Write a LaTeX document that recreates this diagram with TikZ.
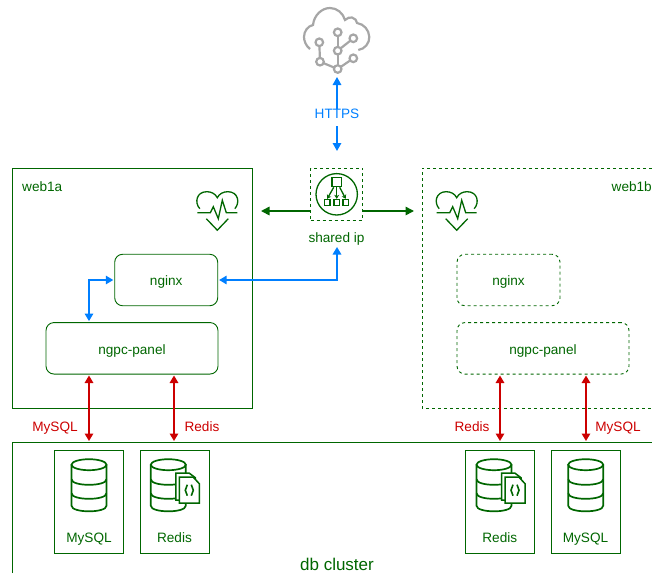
\documentclass[tikz,border=0pt]{standalone}
\usepackage{fontspec}
\setmainfont{Liberation Sans}
\usetikzlibrary{arrows.meta}

\definecolor{ngreen}{HTML}{006600}
\definecolor{nblue}{HTML}{007FFF}
\definecolor{nred}{HTML}{CC0000}
\definecolor{ngray}{HTML}{A6A6A6}

\tikzset{
    dashline/.style={dash pattern=on 3pt off 3pt},
    box/.style={draw=ngreen,line width=0.9pt,text=ngreen,minimum width=#1,minimum height=51.5pt,inner sep=0pt,rounded corners=8pt,font=\fontsize{13.6}{15}\selectfont,text height=11.5pt,text depth=0pt},
    dbbox/.style={draw=ngreen,line width=0.9pt,minimum width=69pt,minimum height=103pt,inner sep=0pt},
    lbl/.style={inner sep=0pt,font=\fontsize{13.6}{15}\selectfont,text height=9.5pt,text depth=2.8pt},
    bluearrow/.style={draw=nblue,line width=1.6pt,{Triangle[width=8.5pt,length=7.5pt]}-{Triangle[width=8.5pt,length=7.5pt]},shorten >=1pt,shorten <=1pt},
    blueup/.style={draw=nblue,line width=1.6pt,-{Triangle[width=8.5pt,length=8pt]}},
    redarrow/.style={draw=nred,line width=1.6pt,{Triangle[width=8.5pt,length=7.5pt]}-{Triangle[width=8.5pt,length=7.5pt]},shorten <=1pt},
    greenarrow/.style={draw=ngreen,line width=1.6pt,-{Triangle[width=8.5pt,length=8.5pt]}},
    heart/.pic={
        \draw[ngreen,line width=1.3pt] (-17.5,-4) .. controls (-23,-10) and (-21,-21) .. (-10.5,-21) .. controls (-6,-21) and (-2,-19) .. (0,-15) .. controls (2,-19) and (6,-21) .. (10.5,-21) .. controls (21,-21) and (23,-10) .. (17.5,-4);
        \draw[ngreen,line width=1.3pt] (-11,6) -- (0,17.5) -- (11,6);
        \draw[ngreen,line width=1.3pt] (-20,0) -- (-7,0) -- (-4,-6) -- (1,6) -- (5,-12.5) -- (9,0) -- (20,0);
    },
    dbstack/.pic={
        \draw[ngreen,line width=1.7pt] (0,0) ellipse (17.5pt and 5.5pt);
        \draw[ngreen,line width=1.7pt] (-17.5,0) -- (-17.5,41) .. controls (-17.5,48.5) and (17.5,48.5) .. (17.5,41) -- (17.5,0);
        \foreach \y in {14.5,28.5}
            \draw[ngreen,line width=1.7pt] (-17.5,\y) .. controls (-17.5,\y+7.5) and (17.5,\y+7.5) .. (17.5,\y);
    },
    docs/.pic={
        \draw[ngreen,fill=white,line width=1.5pt] (7.5,35.5) -- (7.5,8.5) -- (21,8.5) -- (27,13) -- (27,35.5) -- cycle;
        \draw[ngreen,fill=white,line width=1.5pt] (11,38.5) -- (11,12.5) -- (25,12.5) -- (31,19) -- (31,38.5) -- cycle;
        \draw[ngreen,line width=1.6pt] (19,20) -- (17,25.5) -- (19,31);
        \draw[ngreen,line width=1.6pt] (23,20) -- (25,25.5) -- (23,31);
    }
}

\begin{document}
\begin{tikzpicture}[x=1pt,y=-1pt]
    \useasboundingbox (0,0) rectangle (652,573);

    % outer boxes
    \node[draw=ngreen,line width=0.9pt,minimum width=240pt,minimum height=240pt,inner sep=0pt] (weba) at (132,288) {};
    \node[lbl,text=ngreen,anchor=west] (webalabel) at (22,188) {web1a};
    \draw[ngreen,line width=0.9pt,dashline] (652,168) -- (422,168) -- (422,408) -- (652,408);
    \node[lbl,text=ngreen,anchor=east] (webblabel) at (652,188) {web1b};
    \draw[ngreen,line width=0.9pt] (12,573) -- (12,442) -- (652,442);
    \node[lbl,text=ngreen,font=\fontsize{17}{18}\selectfont] (dbcluster) at (337,567) {db cluster};

    % services
    \node[box=103pt] (nginxa) at (166.2,280) {nginx};
    \node[box=172pt,text height=12.5pt] (panela) at (132,348.3) {ngpc-panel};
    \node[box=103pt,dashline] (nginxb) at (508.5,280) {nginx};
    \node[box=172pt,text height=12.5pt,dashline] (panelb) at (543,348.3) {ngpc-panel};

    % databases
    \node[dbbox] (mysqla) at (89,501.5) {};
    \node[dbbox] (redisa) at (174.5,501.5) {};
    \node[dbbox] (redisb) at (499.8,501.5) {};
    \node[dbbox] (mysqlb) at (585.5,501.5) {};
    \node[lbl,text=ngreen] (mysqlatext) at (89,539) {MySQL};
    \node[lbl,text=ngreen] (redisatext) at (174.5,539) {Redis};
    \node[lbl,text=ngreen] (redisbtext) at (499.8,539) {Redis};
    \node[lbl,text=ngreen] (mysqlbtext) at (585.5,539) {MySQL};
    \pic at (89,464.7) {dbstack};
    \pic at (168.3,464.7) {dbstack};
    \pic at (168.3,464.7) {docs};
    \pic at (494,464.7) {dbstack};
    \pic at (494,464.7) {docs};
    \pic at (585.7,464.7) {dbstack};

    % hearts
    \pic at (217.3,212.7) {heart};
    \pic at (456.7,212.7) {heart};

    % shared ip
    \node[draw=ngreen,line width=0.9pt,dashline,minimum width=52pt,minimum height=52pt,inner sep=0pt] (sharedip) at (336.5,194) {};
    \node[lbl,text=ngreen] (sharedtext) at (336.5,239) {shared ip};
    \begin{scope}[shift={(336.7,194.3)},ngreen,line width=1.3pt]
        \draw (0,0) circle (20.7pt);
        \draw (-4.7,-17) rectangle (4.7,-8);
        \foreach \x in {-9.5,0,9}
            \draw (\x-2.8,5.3) rectangle (\x+2.8,11.3);
        \draw[-{Stealth[length=4pt,width=5pt]}] (0,-7) -- (0,4.5);
        \draw[-{Stealth[length=4pt,width=5pt]}] (-3,-7) -- (-9.5,4.5);
        \draw[-{Stealth[length=4pt,width=5pt]}] (3,-7) -- (9,4.5);
    \end{scope}

    % cloud
    \begin{scope}[ngray,line width=2.2pt]
        \draw (310,49) .. controls (306,46) and (304,41) .. (304,37) .. controls (304,31) and (308,26) .. (313,25) .. controls (314,15) and (322,8) .. (330,8) .. controls (337,8) and (343,13) .. (345,20) .. controls (347,18) and (350,17) .. (352,17.5) .. controls (355,18) and (357,21) .. (357,23) .. controls (364,24) and (369,30) .. (369.3,37) .. controls (369.5,43) and (365,49) .. (358.3,50);
        \draw (319.3,42.3) -- (320,61.7) -- (337.7,69) -- (353.3,58.3);
        \draw (337.7,69) -- (337.7,32.3);
        \draw (337.7,50.7) -- (353.3,38.3);
        \foreach \x/\y in {319.3/42.3,337.7/32.3,353.3/38.3,337.7/50.7,320/61.7,353.3/58.3,337.7/69}
            \draw[fill=white] (\x,\y) circle (3.8pt);
    \end{scope}

    % connectors
    \coordinate (cloudbottom) at (337,77);
    \coordinate (sharedtop) at (337,151);
    \coordinate (sharedbelow) at (337,246);
    \coordinate (panelakink) at (89,280);
    \coordinate (greenleft) at (261,211);
    \coordinate (greenright) at (414,211);
    \node[lbl,text=nblue] (httpstext) at (337,115) {HTTPS};
    \draw[blueup] (httpstext.north) -- (cloudbottom);
    \draw[blueup,shorten <=5pt] (httpstext.south) -- (sharedtop);
    \draw[bluearrow] (sharedbelow) |- (nginxa.east);
    \draw[bluearrow] (nginxa.west) -- (panelakink) -- (panelakink |- panela.north);
    \draw[greenarrow] (sharedip.west |- greenleft) -- (greenleft);
    \draw[greenarrow] (sharedip.east |- greenright) -- (greenright);

    \foreach \name/\x/\panel in {lineone/89/panela,linetwo/174/panela,linethree/500/panelb,linefour/586/panelb}{
        \coordinate (\name) at (\x,441);
        \draw[redarrow] (\panel.south -| \name) -- (\name);
    }
    \node[lbl,text=nred] (mysqlaline) at (55,428) {MySQL};
    \node[lbl,text=nred] (redisaline) at (202,428) {Redis};
    \node[lbl,text=nred] (redisbline) at (472,428) {Redis};
    \node[lbl,text=nred] (mysqlbline) at (618,428) {MySQL};
\end{tikzpicture}
\end{document}
